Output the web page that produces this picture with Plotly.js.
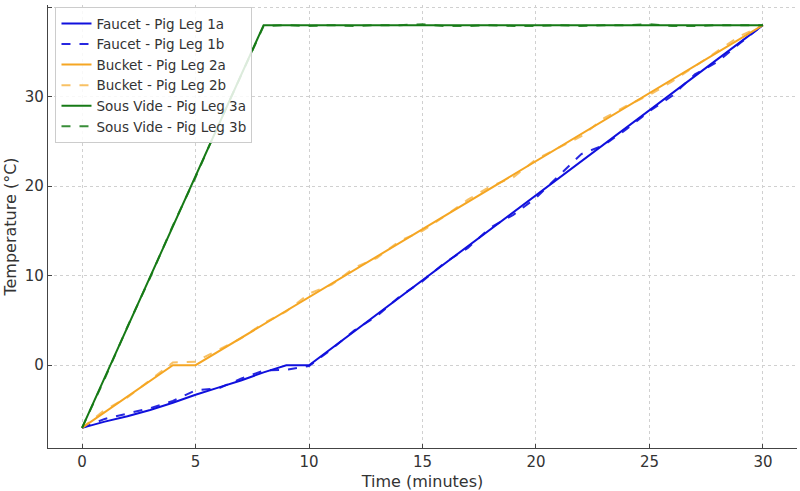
<!DOCTYPE html>
<html>
<head>
<meta charset="utf-8">
<script src="https://cdn.plot.ly/plotly-3.0.1.min.js"></script>
<style>html,body{margin:0;padding:0;background:#fff;}#chart{width:800px;height:491px;}</style>
</head>
<body>
<div id="chart"></div>
<script>
const time = [0,1,2,3,4,5,6,7,8,9,10,11,12,13,14,15,16,17,18,19,20,21,22,23,24,25,26,27,28,29,30];

const faucet1a = [-7,-6.3,-5.7,-5,-4.2,-3.3,-2.5,-1.7,-0.8,0,0,1.9,3.8,5.7,7.6,9.5,11.4,13.3,15.2,17.1,19.0,20.9,22.8,24.7,26.6,28.5,30.4,32.3,34.2,36.1,38];
const faucet1b = [-7,-6.0,-5.4,-4.8,-4.0,-2.8,-2.6,-1.5,-0.6,-0.5,-0.1,1.8,3.9,5.5,7.7,9.4,11.5,13.1,15.4,16.8,18.7,21.1,23.6,24.6,26.4,28.4,30.1,32.5,33.9,36.0,38];
const bucket2a = [-7,-5.25,-3.5,-1.75,0,0,1.52,3.04,4.56,6.08,7.6,9.12,10.64,12.16,13.68,15.2,16.72,18.24,19.76,21.28,22.8,24.32,25.84,27.36,28.88,30.4,31.92,33.44,34.96,36.48,38];
const bucket2b = [-7,-5.0,-3.6,-1.6,0.3,0.4,1.7,3.0,4.7,6.0,8.0,9.0,10.9,12.0,13.9,15.0,16.7,18.5,20.0,21.0,23.0,24.3,25.6,27.6,29.0,30.2,31.7,33.4,35.1,36.8,38];
const sous3a = [-7,-1.4,4.25,9.9,15.5,21.1,26.75,32.4,38,38,38,38,38,38,38,38,38,38,38,38,38,38,38,38,38,38,38,38,38,38,38];
const sous3b = [-7,-1.5,4.3,9.8,15.6,21.0,26.8,32.3,37.9,38,37.9,38,37.9,38,38,38.1,37.9,37.9,38,37.9,37.9,38,37.9,38,38,38.1,37.9,37.9,38,38,38];

const names = ["Faucet - Pig Leg 1a","Faucet - Pig Leg 1b","Bucket - Pig Leg 2a","Bucket - Pig Leg 2b","Sous Vide - Pig Leg 3a","Sous Vide - Pig Leg 3b"];

const series = [faucet1a, faucet1b, bucket2a, bucket2b, sous3a, sous3b];
const colors = ["#1010dd","#1010dd","#f5a623","#f5a623","#167a16","#167a16"];
const dashes = ["solid","dash","solid","dash","solid","dash"];
const opac = [1,0.9,1,0.7,1,0.85];

const traces = series.map((ys,i)=>({
  x: time, y: ys, type:"scatter", mode:"lines", name: names[i],
  line:{color:colors[i], width:2, dash:dashes[i]}, opacity: opac[i]
}));

const axisCommon = {
  showgrid:true, gridcolor:"#d0d0d0", griddash:"3px,3px", gridwidth:1,
  zeroline:false, showline:true, linecolor:"#444", linewidth:1.2,
  ticks:"inside", ticklen:4, tickcolor:"#444",
  tickfont:{family:"DejaVu Sans", size:15, color:"#333"}
};

const layout = {
  width:800, height:491,
  margin:{l:48, r:3, t:5, b:43},
  paper_bgcolor:"#fff", plot_bgcolor:"#fff",
  showlegend:true,
  legend:{x:0.01, y:0.995, xanchor:"left", yanchor:"top",
    bgcolor:"rgba(255,255,255,0.85)", bordercolor:"#cccccc", borderwidth:1,
    font:{family:"DejaVu Sans", size:13.5, color:"#333"}, tracegroupgap:0, itemwidth:30},
  xaxis: Object.assign({}, axisCommon, {range:[-1.5,31.5], tickvals:[0,5,10,15,20,25,30],
    title:{text:"Time (minutes)", font:{family:"DejaVu Sans", size:16, color:"#333"}, standoff:6}}),
  yaxis: Object.assign({}, axisCommon, {range:[-9.25,40.25], tickvals:[0,10,20,30,40],
    title:{text:"Temperature (°C)", font:{family:"DejaVu Sans", size:16, color:"#333"}, standoff:4}})
};

Plotly.newPlot("chart", traces, layout, {displayModeBar:false, staticPlot:true});
</script>
</body>
</html>
